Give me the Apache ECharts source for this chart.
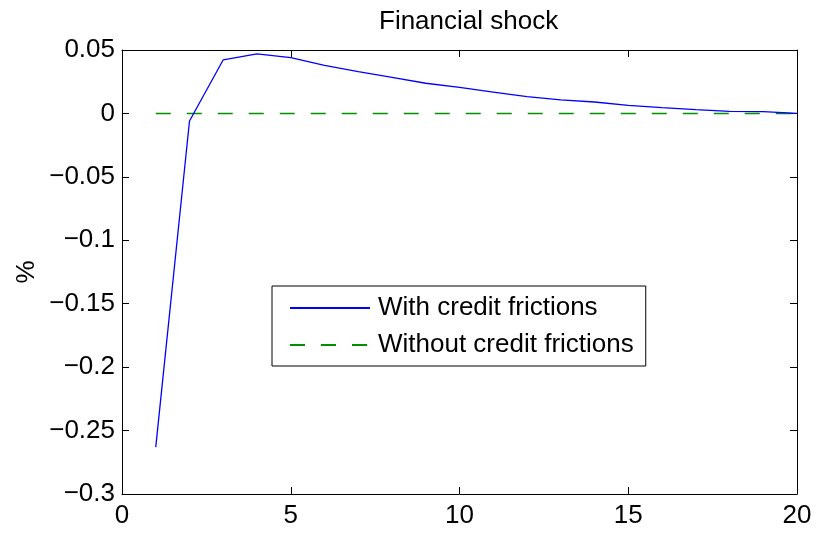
<!DOCTYPE html>
<html>
<head>
<meta charset="utf-8">
<script src="https://cdn.jsdelivr.net/npm/echarts@6/dist/echarts.min.js"></script>
<style>html,body{margin:0;padding:0;background:#fff}#c{width:827px;height:533px}</style>
</head>
<body>
<div id="c"></div>
<script>
const periods = [1,2,3,4,5,6,7,8,9,10,11,12,13,14,15,16,17,18,19,20];
const withFrictions = [-0.263,-0.006,0.0423,0.0470,0.0440,0.0378,0.0330,0.0285,0.0238,0.0205,0.0168,0.0132,0.0107,0.0090,0.0063,0.0046,0.0030,0.0016,0.0014,0.0000];
const withoutFrictions = [0,0,0,0,0,0,0,0,0,0,0,0,0,0,0,0,0,0,0,0];
const seriesNames = ['With credit frictions','Without credit frictions'];
const titleText = 'Financial shock';
const yName = '%';

const FONT = '"Liberation Sans", Arial, Helvetica, sans-serif';
const FS = 26;
const chart = echarts.init(document.getElementById('c'), null, {renderer:'canvas'});
const fmtY = v => { const r = Math.round(v*100)/100; return String(r).replace('-', '\u2212'); };
const common = {
  axisLine:{show:true, onZero:false, lineStyle:{color:'#000', width:1}},
  axisTick:{show:true, inside:true, length:7, lineStyle:{color:'#000', width:1}},
  splitLine:{show:false}
};
chart.setOption({
  animation:false,
  backgroundColor:'#fff',
  title:{text:titleText, left:374, top:4, textStyle:{fontFamily:FONT, fontSize:FS, fontWeight:'normal', color:'#000'}},
  grid:{left:122, right:30, top:50, bottom:39, containLabel:false},
  graphic:[{
    type:'text', x:27, y:272, rotation:Math.PI/2,
    style:{text:yName, fontFamily:FONT, fontSize:FS, fill:'#000', align:'center', verticalAlign:'middle'}
  }],
  legend:{
    orient:'vertical', left:272, top:286,
    padding:[8,12,7,17], itemGap:9, itemWidth:80, itemHeight:14,
    borderColor:'#000', borderWidth:1, backgroundColor:'#fff',
    itemStyle:{opacity:0},
    textStyle:{fontFamily:FONT, fontSize:FS, color:'#000', lineHeight:28, padding:[0,0,0,3]},
    data:seriesNames,
    selectedMode:false
  },
  xAxis:[
    Object.assign({type:'value', min:0, max:20, interval:5, position:'bottom',
      axisLabel:{fontFamily:FONT, fontSize:FS, color:'#000', margin:9}}, common),
    Object.assign({type:'value', min:0, max:20, interval:5, position:'top',
      axisLabel:{show:false}}, common)
  ],
  yAxis:[
    Object.assign({type:'value', min:-0.3, max:0.05, interval:0.05, position:'left',
      axisLabel:{fontFamily:FONT, fontSize:FS, color:'#000', margin:7, formatter:fmtY}}, common),
    Object.assign({type:'value', min:-0.3, max:0.05, interval:0.05, position:'right',
      axisLabel:{show:false}}, common)
  ],
  series:[
    {name:seriesNames[0], type:'line', data:periods.map((x,i)=>[x, withFrictions[i]]),
     showSymbol:false, symbol:'none', lineStyle:{color:'#0000ff', width:1.3}, itemStyle:{color:'#0000ff'}, z:3},
    {name:seriesNames[1], type:'line', data:periods.map((x,i)=>[x, withoutFrictions[i]]),
     showSymbol:false, symbol:'none', lineStyle:{color:'#009000', width:1.5, type:[15,16]}, itemStyle:{color:'#009000'}, z:2}
  ]
});
</script>
</body>
</html>
